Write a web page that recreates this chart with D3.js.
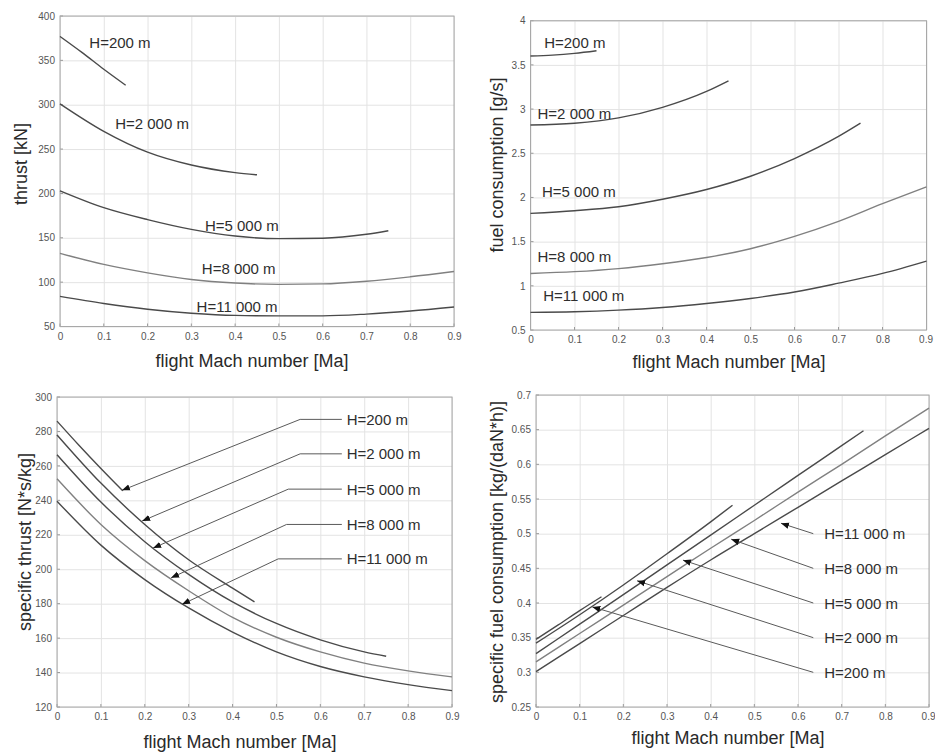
<!DOCTYPE html>
<html><head><meta charset="utf-8">
<script src="https://cdn.jsdelivr.net/npm/d3@7"></script>
<style>
body{margin:0;background:#fff}
svg{display:block}
text{font-family:"Liberation Sans",Arial,Helvetica,sans-serif}
</style>
</head><body>
<svg id="chart" width="935" height="753"></svg>
<script>
// ---------- data ----------
const altitudeLabels = ["H=200 m", "H=2 000 m", "H=5 000 m", "H=8 000 m", "H=11 000 m"];
const machTicks = [0, 0.1, 0.2, 0.3, 0.4, 0.5, 0.6, 0.7, 0.8, 0.9];
const mach200 = [0, 0.05, 0.1, 0.15];
const mach2000 = [0, 0.1, 0.2, 0.3, 0.4, 0.45];
const mach5000 = [0, 0.1, 0.2, 0.3, 0.4, 0.5, 0.6, 0.7, 0.75];
const mach8000 = [0, 0.1, 0.2, 0.3, 0.4, 0.5, 0.6, 0.7, 0.8, 0.9];
const mach11000 = [0, 0.1, 0.2, 0.3, 0.4, 0.5, 0.6, 0.7, 0.8, 0.9];

// thrust [kN]
const thrustTicks = [50, 100, 150, 200, 250, 300, 350, 400];
const thrust200 = [377, 359, 340, 322];
const thrust2000 = [301, 270, 246.5, 232, 223.5, 221];
const thrust5000 = [203, 184, 170.5, 159.5, 152, 149, 149.5, 154, 158];
const thrust8000 = [132.5, 120, 110.5, 103, 99, 97.5, 98, 101, 106, 112];
const thrust11000 = [84, 76, 69.5, 65, 62.5, 62, 62, 64, 67.5, 72];
const thrustLabelMach = [0.067, 0.126, 0.331, 0.324, 0.312];
const thrustLabelValue = [370, 279, 164, 115, 73];

// fuel consumption [g/s]
const fuelTicks = [0.5, 1, 1.5, 2, 2.5, 3, 3.5, 4];
const fuel200 = [3.60, 3.61, 3.63, 3.66];
const fuel2000 = [2.82, 2.84, 2.90, 3.02, 3.20, 3.32];
const fuel5000 = [1.82, 1.85, 1.895, 1.98, 2.09, 2.24, 2.44, 2.69, 2.84];
const fuel8000 = [1.14, 1.16, 1.195, 1.25, 1.32, 1.42, 1.56, 1.73, 1.93, 2.12];
const fuel11000 = [0.70, 0.707, 0.725, 0.755, 0.80, 0.857, 0.93, 1.03, 1.14, 1.28];
const fuelLabelMach = [0.031, 0.016, 0.026, 0.016, 0.029];
const fuelLabelValue = [3.75, 2.955, 2.063, 1.336, 0.892];

// specific thrust [N*s/kg]
const specThrustTicks = [120, 140, 160, 180, 200, 220, 240, 260, 280, 300];
const specThrust200 = [286, 272, 258.5, 245.5];
const specThrust2000 = [278, 250, 226, 205.5, 189, 181];
const specThrust5000 = [266.5, 239, 216, 197, 181, 168.5, 159, 152, 149.5];
const specThrust8000 = [252.5, 226, 205, 187.5, 172, 160.5, 152, 145.5, 141, 137.5];
const specThrust11000 = [239.5, 214, 194, 177.5, 163.5, 152, 143.5, 137.5, 133, 129.5];
const specThrustTipMach = [0.148, 0.194, 0.219, 0.26, 0.285];
const specThrustTipValue = [245.8, 228, 212.3, 195, 179.6];
const specThrustElbowMach = [0.554, 0.554, 0.527, 0.523, 0.504];
const specThrustLabelValue = [287, 267, 246.5, 226, 206];
const specThrustLeaderEndMach = 0.649;
const specThrustTextMach = 0.66;

// specific fuel consumption [kg/(daN*h)]
const sfcTicks = [0.25, 0.3, 0.35, 0.4, 0.45, 0.5, 0.55, 0.6, 0.65, 0.7];
const sfc200 = [0.3476, 0.368, 0.389, 0.409];
const sfc2000 = [0.342, 0.383, 0.426, 0.471, 0.517, 0.541];
const sfc5000 = [0.327, 0.3695, 0.412, 0.455, 0.498, 0.541, 0.584, 0.627, 0.6485];
const sfc8000 = [0.315, 0.356, 0.397, 0.438, 0.479, 0.519, 0.56, 0.60, 0.641, 0.681];
const sfc11000 = [0.301, 0.3415, 0.382, 0.4225, 0.462, 0.500, 0.538, 0.576, 0.614, 0.652];
const sfcTipMach = [0.129, 0.2315, 0.3366, 0.447, 0.561];
const sfcTipValue = [0.3944, 0.432, 0.4618, 0.492, 0.515];
const sfcLabelValue = [0.30, 0.35, 0.40, 0.45, 0.50];
const sfcLeaderEndMach = 0.635;
const sfcTextMach = 0.66;

const machSets = [mach200, mach2000, mach5000, mach8000, mach11000];
const seriesColors = ["#4a4a4a", "#4a4a4a", "#4a4a4a", "#808080", "#4a4a4a"];

// ---------- drawing ----------
const svg = d3.select("#chart");
const defs = svg.append("defs");
defs.append("marker")
  .attr("id", "arrow").attr("viewBox", "0 0 10 10")
  .attr("refX", 10).attr("refY", 5)
  .attr("markerWidth", 8).attr("markerHeight", 8)
  .attr("markerUnits", "userSpaceOnUse")
  .attr("orient", "auto")
  .append("path").attr("d", "M0,1 L10,5 L0,9 Z").attr("fill", "#111");

const panels = [
  {frame: [60, 454, 16, 326.5], domain: [50, 400], ticks: thrustTicks,
   series: [thrust200, thrust2000, thrust5000, thrust8000, thrust11000],
   ylabel: "thrust [kN]", ylabelPos: [21, 164], xlabelPos: [252, 361], kind: "plain",
   labelMach: thrustLabelMach, labelValue: thrustLabelValue},
  {frame: [530.5, 926.5, 20.7, 330], domain: [0.5, 4], ticks: fuelTicks,
   series: [fuel200, fuel2000, fuel5000, fuel8000, fuel11000],
   ylabel: "fuel consumption [g/s]", ylabelPos: [497, 165], xlabelPos: [729, 362], kind: "plain",
   labelMach: fuelLabelMach, labelValue: fuelLabelValue},
  {frame: [57, 452, 397, 707], domain: [120, 300], ticks: specThrustTicks,
   series: [specThrust200, specThrust2000, specThrust5000, specThrust8000, specThrust11000],
   ylabel: "specific thrust [N*s/kg]", ylabelPos: [25, 542], xlabelPos: [240, 742], kind: "elbow"},
  {frame: [536, 929, 395, 707], domain: [0.25, 0.7], ticks: sfcTicks,
   series: [sfc200, sfc2000, sfc5000, sfc8000, sfc11000],
   ylabel: "specific fuel consumption [kg/(daN*h)]", ylabelPos: [497, 552], xlabelPos: [728, 738], kind: "straight"}
];

panels.forEach(p => {
  const [L, R, T, B] = p.frame;
  const x = d3.scaleLinear().domain([0, 0.9]).range([L, R]);
  const y = d3.scaleLinear().domain(p.domain).range([B, T]);
  const g = svg.append("g");

  // grid + x ticks
  const xa = g.append("g").attr("transform", `translate(0,${B})`)
    .call(d3.axisBottom(x).tickValues(machTicks).tickFormat(d3.format("~g"))
      .tickSizeInner(-(B - T)).tickSizeOuter(0).tickPadding(6));
  const ya = g.append("g").attr("transform", `translate(${L},0)`)
    .call(d3.axisLeft(y).tickValues(p.ticks).tickFormat(d3.format("~g"))
      .tickSizeInner(-(R - L)).tickSizeOuter(0).tickPadding(5));
  [xa, ya].forEach(a => {
    a.select(".domain").remove();
    a.selectAll(".tick line").attr("stroke", "#e3e3e3").attr("stroke-width", 1);
    a.selectAll(".tick text").attr("fill", "#555").attr("font-size", 10)
      .attr("font-family", "'Liberation Sans', Arial, sans-serif");
  });
  // keep the last x tick label inside the page
  xa.selectAll(".tick text").filter(d => x(d) + 9 > 935).attr("text-anchor", "end").attr("dx", 6);

  // small inner ticks
  g.selectAll(null).data(machTicks).join("line")
    .attr("x1", d => x(d)).attr("x2", d => x(d)).attr("y1", B).attr("y2", B - 3)
    .attr("stroke", "#9a9a9a");
  g.selectAll(null).data(p.ticks).join("line")
    .attr("x1", L).attr("x2", L + 3).attr("y1", d => y(d)).attr("y2", d => y(d))
    .attr("stroke", "#9a9a9a");
  g.append("rect").attr("x", L).attr("y", T).attr("width", R - L).attr("height", B - T)
    .attr("fill", "none").attr("stroke", "#a8a8a8").attr("stroke-width", 1);

  // curves
  const line = d3.line().x(d => x(d[0])).y(d => y(d[1])).curve(d3.curveMonotoneX);
  p.series.forEach((vals, i) => {
    const pts = machSets[i].map((m, k) => [m, vals[k]]);
    g.append("path").attr("d", line(pts)).attr("fill", "none")
      .attr("stroke", seriesColors[i]).attr("stroke-width", 1.4);
  });

  // annotations
  const lab = (sx, sy, t) => g.append("text").attr("x", sx).attr("y", sy)
    .attr("dominant-baseline", "central").attr("font-size", 15).attr("fill", "#2e2e2e").text(t);
  if (p.kind === "plain") {
    altitudeLabels.forEach((t, i) => lab(x(p.labelMach[i]), y(p.labelValue[i]), t));
  } else if (p.kind === "elbow") {
    altitudeLabels.forEach((t, i) => {
      const pts = [[specThrustLeaderEndMach, specThrustLabelValue[i]],
                   [specThrustElbowMach[i], specThrustLabelValue[i]],
                   [specThrustTipMach[i], specThrustTipValue[i]]];
      g.append("path").attr("d", d3.line().x(d => x(d[0])).y(d => y(d[1]))(pts))
        .attr("fill", "none").attr("stroke", "#5a5a5a").attr("stroke-width", 1)
        .attr("marker-end", "url(#arrow)");
      lab(x(specThrustTextMach), y(specThrustLabelValue[i]), t);
    });
  } else {
    altitudeLabels.forEach((t, i) => {
      g.append("line")
        .attr("x1", x(sfcLeaderEndMach)).attr("y1", y(sfcLabelValue[i]))
        .attr("x2", x(sfcTipMach[i])).attr("y2", y(sfcTipValue[i]))
        .attr("stroke", "#5a5a5a").attr("stroke-width", 1)
        .attr("marker-end", "url(#arrow)");
      lab(x(sfcTextMach), y(sfcLabelValue[i]), t);
    });
  }

  // axis labels
  g.append("text").attr("x", p.xlabelPos[0]).attr("y", p.xlabelPos[1])
    .attr("text-anchor", "middle").attr("dominant-baseline", "central")
    .attr("font-size", 18).attr("fill", "#2a2a2a").text("flight Mach number [Ma]");
  g.append("text")
    .attr("transform", `translate(${p.ylabelPos[0]},${p.ylabelPos[1]}) rotate(-90)`)
    .attr("text-anchor", "middle").attr("dominant-baseline", "central")
    .attr("font-size", 18).attr("fill", "#2a2a2a")
    .attr("stroke", "#fff").attr("stroke-width", 3).attr("paint-order", "stroke")
    .text(p.ylabel);
});
</script>
</body></html>
